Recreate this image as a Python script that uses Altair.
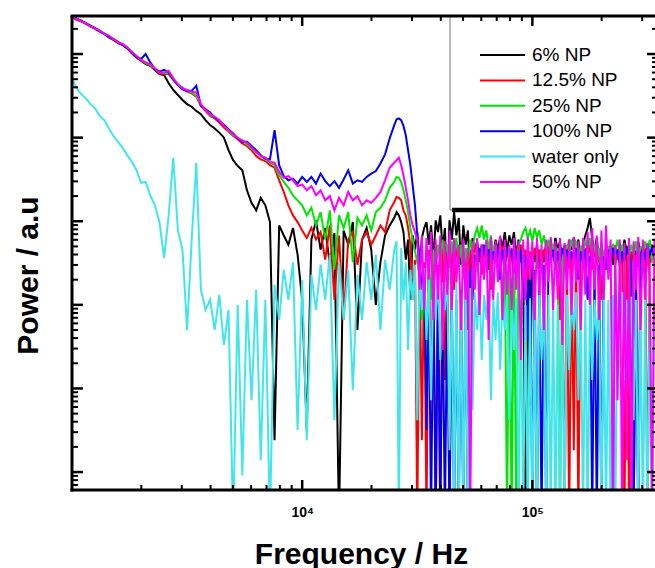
import altair as alt
import pandas as pd

# ---------------- data ----------------
# log10 of frequency (Hz) sample grid
LGF_LOW = [3.00, 3.02, 3.04, 3.06, 3.08, 3.10, 3.12, 3.14, 3.16, 3.18,
           3.20, 3.22, 3.24, 3.26, 3.28, 3.30, 3.32, 3.34, 3.36, 3.38,
           3.40, 3.42, 3.44, 3.46, 3.48, 3.50, 3.52, 3.54, 3.56, 3.58,
           3.60, 3.62, 3.64, 3.66, 3.68, 3.70, 3.72, 3.74, 3.76, 3.78,
           3.80, 3.82, 3.84, 3.86, 3.88, 3.90, 3.92, 3.94, 3.96, 3.98,
           4.00, 4.02, 4.04, 4.06, 4.08, 4.10, 4.12, 4.14, 4.16, 4.18,
           4.20, 4.22, 4.24, 4.26, 4.28, 4.30, 4.32, 4.34, 4.36, 4.38]
LGF_HIGH = [4.40, 4.41, 4.42, 4.43, 4.44, 4.45, 4.46, 4.47, 4.48, 4.49,
            4.50, 4.51, 4.52, 4.53, 4.54, 4.55, 4.56, 4.57, 4.58, 4.59,
            4.60, 4.61, 4.62, 4.63, 4.64, 4.65, 4.66, 4.67, 4.68, 4.69,
            4.70, 4.71, 4.72, 4.73, 4.74, 4.75, 4.76, 4.77, 4.78, 4.79,
            4.80, 4.81, 4.82, 4.83, 4.84, 4.85, 4.86, 4.87, 4.88, 4.89,
            4.90, 4.91, 4.92, 4.93, 4.94, 4.95, 4.96, 4.97, 4.98, 4.99,
            5.00, 5.01, 5.02, 5.03, 5.04, 5.05, 5.06, 5.07, 5.08, 5.09,
            5.10, 5.11, 5.12, 5.13, 5.14, 5.15, 5.16, 5.17, 5.18, 5.19,
            5.20, 5.21, 5.22, 5.23, 5.24, 5.25, 5.26, 5.27, 5.28, 5.29,
            5.30, 5.31, 5.32, 5.33, 5.34, 5.35, 5.36, 5.37, 5.38, 5.39,
            5.40, 5.41, 5.42, 5.43, 5.44, 5.45, 5.46, 5.47, 5.48, 5.49,
            5.50, 5.51, 5.52, 5.53, 5.54]
LGF = LGF_LOW + LGF_HIGH

SERIES = ["6% NP", "12.5% NP", "25% NP", "100% NP", "water only", "50% NP"]
COLORS = ["#000000", "#ff0000", "#00e600", "#0000f0", "#40e6ea", "#ff00ff"]

# log10 of power (a.u.)
LGP_6 = [
    0.45, 0.42, 0.39, 0.37, 0.33, 0.31, 0.28, 0.24, 0.20, 0.17,
    0.13, 0.11, 0.07, 0.01, -0.04, -0.08, -0.12, -0.14, -0.19, -0.24,
    -0.25, -0.35, -0.43, -0.49, -0.55, -0.60, -0.63, -0.68, -0.72, -0.79,
    -0.85, -0.89, -0.94, -1.00, -1.15, -1.27, -1.34, -1.39, -1.63, -1.78,
    -1.87, -1.72, -1.81, -2.01, -4.62, -2.05, -2.17, -2.28, -2.08, -2.40,
    -2.94, -4.50, -2.22, -1.99, -2.34, -2.08, -2.52, -2.14, -5.60, -2.11,
    -2.28, -2.01, -3.30, -2.22, -2.08, -2.34, -3.00, -2.49, -2.17, -2.05,
    -1.96, -1.89, -1.93, -2.01, -2.13, -2.46, -2.22, -2.94, -2.17, -2.34,
    -2.13, -2.58, -2.20, -2.08, -2.01, -2.28, -2.05, -2.46, -1.99, -2.13,
    -1.93, -2.34, -2.08, -2.82, -1.99, -2.22, -1.89, -2.17, -1.96, -2.52,
    -2.05, -2.28, -2.11, -2.70, -2.20, -2.34, -2.24, -2.49, -2.28, -2.40,
    -2.32, -2.58, -2.28, -2.42, -2.22, -2.34, -2.19, -2.32, -2.13, -2.36,
    -2.17, -2.28, -2.13, -2.42, -2.22, -2.49, -2.32, -5.60, -2.36, -4.20,
    -2.34, -2.49, -2.28, -2.56, -2.34, -2.49, -2.24, -2.40, -2.22, -2.42,
    -2.20, -2.34, -2.24, -2.49, -2.28, -2.40, -2.22, -2.34, -2.19, -2.32,
    -2.22, -2.42, -2.27, -2.17, -2.08, -1.96, -2.22, -2.36, -2.20, -2.49,
    -2.28, -2.58, -2.34, -2.42, -2.30, -2.52, -2.32, -2.46, -2.27, -2.41,
    -2.22, -2.36, -2.28, -2.49, -2.32, -2.42, -2.24, -2.40, -2.30, -2.46,
    -2.34, -2.49, -2.28, -2.40, -2.34]

LGP_12 = [
    0.44, 0.41, 0.39, 0.36, 0.33, 0.30, 0.27, 0.24, 0.21, 0.17,
    0.14, 0.11, 0.07, 0.02, -0.03, -0.08, -0.11, -0.14, -0.18, -0.23,
    -0.24, -0.24, -0.31, -0.37, -0.42, -0.45, -0.47, -0.51, -0.62, -0.68,
    -0.74, -0.77, -0.82, -0.88, -0.93, -0.98, -1.02, -1.07, -1.10, -1.15,
    -1.22, -1.26, -1.28, -1.33, -1.36, -1.51, -1.65, -1.81, -1.93, -2.01,
    -2.11, -2.20, -2.08, -2.22, -2.13, -2.46, -2.05, -2.94, -2.17, -3.18,
    -2.22, -2.13, -2.52, -2.22, -2.13, -2.28, -2.17, -2.05, -2.13, -1.87,
    -1.77, -1.71, -1.72, -1.75, -1.87, -1.93, -2.08, -2.28, -2.94, -2.46,
    -5.60, -2.40, -4.62, -2.49, -5.60, -2.34, -4.14, -2.42, -5.60, -2.52,
    -5.60, -2.32, -3.90, -2.40, -5.60, -2.34, -2.82, -2.28, -2.49, -2.32,
    -2.58, -2.36, -3.30, -2.34, -2.49, -2.28, -2.42, -2.34, -2.64, -2.32,
    -2.46, -2.28, -2.82, -2.36, -2.49, -2.32, -2.42, -2.30, -2.58, -2.34,
    -2.49, -2.32, -2.94, -2.34, -2.42, -2.28, -2.52, -2.34, -2.70, -2.36,
    -2.49, -2.32, -2.42, -2.34, -2.56, -2.34, -2.46, -2.30, -2.41, -2.32,
    -2.52, -2.34, -3.18, -2.36, -5.60, -2.40, -5.60, -2.42, -4.74, -2.36,
    -5.60, -2.34, -2.49, -2.32, -2.42, -2.28, -2.58, -2.34, -2.49, -2.32,
    -2.94, -2.36, -2.49, -2.32, -2.42, -2.30, -2.52, -2.34, -2.42, -2.32,
    -5.60, -2.34, -5.60, -2.36, -5.60, -2.40, -5.60, -2.34, -2.49, -2.32,
    -5.60, -2.36, -2.49, -2.34, -2.42]

LGP_25 = [
    0.44, 0.42, 0.40, 0.36, 0.34, 0.30, 0.28, 0.25, 0.21, 0.18,
    0.15, 0.11, 0.08, 0.03, -0.03, -0.06, -0.11, -0.13, -0.18, -0.21,
    -0.23, -0.23, -0.30, -0.37, -0.40, -0.44, -0.46, -0.50, -0.61, -0.66,
    -0.73, -0.76, -0.80, -0.85, -0.92, -0.97, -1.01, -1.03, -1.08, -1.13,
    -1.18, -1.21, -1.26, -1.30, -1.33, -1.45, -1.53, -1.60, -1.69, -1.75,
    -1.81, -1.93, -1.84, -2.05, -1.89, -2.22, -1.87, -2.58, -1.93, -2.08,
    -1.89, -2.49, -1.96, -2.05, -1.93, -2.11, -1.89, -1.84, -1.75, -1.60,
    -1.53, -1.47, -1.48, -1.53, -1.63, -1.75, -1.89, -2.08, -2.22, -2.36,
    -2.49, -2.64, -3.18, -2.82, -3.90, -2.42, -2.94, -2.34, -2.61, -2.28,
    -2.49, -2.22, -2.40, -2.28, -2.56, -2.24, -2.42, -2.20, -2.49, -2.28,
    -2.70, -2.32, -2.49, -2.22, -2.40, -2.17, -2.08, -2.20, -2.05, -2.22,
    -2.11, -2.34, -2.17, -2.40, -2.28, -2.49, -2.32, -2.94, -2.34, -5.60,
    -2.40, -5.60, -2.34, -5.60, -2.28, -2.22, -2.13, -2.08, -2.20, -2.11,
    -2.24, -2.08, -2.19, -2.11, -2.28, -2.17, -2.34, -2.22, -2.42, -2.28,
    -2.52, -2.32, -5.60, -2.34, -2.49, -2.28, -2.40, -2.22, -2.36, -2.24,
    -2.49, -2.30, -2.42, -2.22, -2.34, -2.20, -2.41, -2.27, -2.49, -2.32,
    -2.58, -2.34, -2.49, -2.30, -2.42, -2.27, -2.36, -2.22, -2.41, -2.28,
    -2.49, -2.32, -2.42, -2.28, -2.40, -2.24, -2.46, -2.30, -2.42, -2.24,
    -2.36, -2.22, -2.49, -2.32, -2.40]

LGP_100 = [
    0.45, 0.42, 0.40, 0.37, 0.34, 0.31, 0.27, 0.24, 0.21, 0.18,
    0.14, 0.11, 0.07, 0.02, -0.03, -0.06, 0.00, -0.10, -0.18, -0.21,
    -0.19, -0.22, -0.30, -0.37, -0.42, -0.44, -0.44, -0.38, -0.62, -0.66,
    -0.70, -0.76, -0.80, -0.85, -0.90, -0.95, -1.01, -1.05, -1.05, -1.10,
    -1.15, -1.21, -1.25, -1.26, -0.91, -1.33, -1.46, -1.51, -1.49, -1.55,
    -1.47, -1.53, -1.47, -1.55, -1.43, -1.52, -1.58, -1.52, -1.60, -1.50,
    -1.39, -1.55, -1.51, -1.53, -1.47, -1.43, -1.40, -1.31, -1.20, -1.01,
    -0.85, -0.78, -0.77, -0.79, -0.86, -0.97, -1.15, -1.33, -1.57, -1.81,
    -2.17, -2.46, -2.82, -2.58, -4.50, -2.64, -5.60, -2.70, -5.60, -2.76,
    -5.60, -2.82, -5.60, -2.88, -5.60, -2.76, -5.60, -2.94, -5.60, -2.82,
    -5.60, -2.70, -5.60, -2.58, -2.94, -2.40, -2.52, -2.32, -2.46, -2.28,
    -2.42, -2.34, -2.58, -2.36, -2.49, -2.32, -2.70, -2.34, -2.49, -2.32,
    -2.42, -2.34, -2.61, -2.36, -2.49, -2.34, -2.94, -2.42, -3.42, -2.49,
    -5.60, -2.58, -5.60, -2.64, -5.60, -2.52, -5.60, -2.40, -2.49, -2.34,
    -2.58, -2.36, -2.49, -2.32, -2.42, -2.34, -2.56, -2.36, -2.49, -2.32,
    -2.70, -2.36, -2.49, -2.34, -2.94, -2.42, -5.60, -2.49, -5.60, -2.52,
    -5.60, -2.42, -2.58, -2.34, -2.49, -2.32, -2.42, -2.34, -2.54, -2.36,
    -2.49, -2.32, -2.42, -2.49, -5.60, -2.52, -5.60, -2.40, -2.32, -2.46,
    -2.28, -2.40, -2.32, -2.42, -2.34]

LGP_WATER = [
    -0.29, -0.41, -0.48, -0.53, -0.60, -0.65, -0.74, -0.79, -0.89, -0.98,
    -1.05, -1.12, -1.21, -1.29, -1.39, -1.54, -1.53, -1.69, -1.81, -2.01,
    -2.44, -1.93, -1.24, -2.11, -2.34, -3.30, -2.22, -1.30, -2.82, -3.06,
    -2.94, -3.30, -2.88, -3.48, -3.06, -5.60, -3.00, -5.04, -2.94, -4.14,
    -2.82, -4.86, -2.94, -5.60, -2.76, -3.18, -2.58, -2.94, -2.49, -4.50,
    -2.70, -4.62, -2.64, -3.06, -2.52, -2.94, -2.40, -4.38, -2.49, -3.18,
    -2.58, -4.02, -2.64, -3.18, -2.49, -2.94, -2.40, -3.30, -2.46, -2.82,
    -2.34, -2.24, -5.60, -2.32, -2.94, -2.49, -3.54, -2.58, -2.94, -2.52,
    -4.38, -2.61, -3.06, -2.56, -3.42, -2.64, -4.14, -2.70, -3.18, -2.61,
    -3.66, -2.73, -3.06, -2.64, -4.74, -2.76, -5.60, -2.67, -5.60, -2.82,
    -5.60, -2.70, -5.60, -2.80, -4.26, -2.85, -3.30, -2.76, -3.66, -2.88,
    -3.18, -2.80, -4.14, -2.92, -3.42, -2.85, -3.78, -2.94, -3.30, -2.88,
    -4.38, -2.94, -3.54, -2.92, -5.60, -2.94, -5.60, -3.00, -5.60, -2.92,
    -5.60, -3.00, -5.60, -2.88, -3.66, -2.94, -5.60, -2.88, -5.60, -2.94,
    -5.60, -3.00, -5.60, -2.92, -5.60, -2.88, -3.78, -2.94, -3.30, -2.85,
    -4.14, -2.92, -5.60, -2.94, -5.60, -2.88, -3.90, -2.94, -3.42, -2.92,
    -5.60, -2.85, -5.60, -2.94, -5.60, -2.88, -5.60, -2.94, -3.18, -2.85,
    -3.90, -2.94, -3.42, -2.90, -4.38, -2.94, -5.60, -2.88, -5.60, -2.94,
    -5.60, -2.90, -5.60, -2.94, -3.30]

LGP_50 = [
    0.45, 0.42, 0.39, 0.37, 0.33, 0.31, 0.28, 0.24, 0.22, 0.18,
    0.14, 0.12, 0.08, 0.02, -0.02, -0.07, -0.10, -0.12, -0.17, -0.22,
    -0.22, -0.20, -0.29, -0.36, -0.41, -0.43, -0.45, -0.46, -0.60, -0.67,
    -0.72, -0.75, -0.79, -0.86, -0.91, -0.96, -1.00, -1.04, -1.06, -1.12,
    -1.17, -1.22, -1.24, -1.29, -1.30, -1.41, -1.48, -1.46, -1.51, -1.58,
    -1.56, -1.63, -1.58, -1.69, -1.63, -1.75, -1.70, -1.87, -1.72, -1.81,
    -1.65, -1.75, -1.70, -1.81, -1.75, -1.78, -1.72, -1.65, -1.51, -1.36,
    -1.30, -1.27, -1.24, -1.33, -1.45, -1.60, -1.75, -1.93, -2.05, -2.13,
    -2.22, -2.82, -2.17, -3.06, -2.20, -2.70, -2.13, -3.18, -2.22, -2.94,
    -2.17, -3.54, -2.24, -2.88, -2.11, -3.06, -2.20, -2.73, -2.28, -3.30,
    -2.22, -2.94, -2.32, -5.60, -2.24, -2.82, -2.20, -3.12, -2.28, -2.70,
    -2.22, -3.42, -2.19, -2.94, -2.24, -2.73, -2.17, -3.18, -2.22, -2.88,
    -2.28, -3.06, -2.20, -2.82, -2.24, -3.66, -2.22, -2.94, -2.19, -2.70,
    -2.24, -3.18, -2.20, -2.88, -2.28, -3.30, -2.22, -2.73, -2.19, -3.06,
    -2.24, -2.94, -2.20, -3.48, -2.26, -2.82, -2.22, -3.12, -2.19, -2.73,
    -2.24, -3.30, -2.20, -2.88, -2.13, -3.00, -2.08, -2.82, -2.17, -3.18,
    -2.11, -2.94, -2.05, -2.70, -2.22, -5.60, -2.28, -4.14, -2.22, -5.60,
    -2.26, -4.86, -2.20, -5.60, -2.24, -2.82, -2.19, -3.30, -2.22, -2.94,
    -2.26, -2.73, -5.60, -2.22, -2.94]

VALUES = [LGP_6, LGP_12, LGP_25, LGP_100, LGP_WATER, LGP_50]

X_LABELED = [10000, 100000]
X_MINOR = [2000, 3000, 4000, 5000, 6000, 7000, 8000, 9000,
           20000, 30000, 40000, 50000, 60000, 70000, 80000, 90000,
           200000, 300000]
Y_MAJOR = [1e-5, 1e-4, 1e-3, 1e-2, 1e-1, 1e0]
Y_MINOR = [m * 10.0 ** e for e in range(-6, 1) for m in range(2, 10)
           if 6.1e-6 < m * 10.0 ** e < 2.85]

for name, vals in zip(SERIES, VALUES):
    if len(vals) != len(LGF):
        raise SystemExit(f"{name}: {len(vals)} values vs {len(LGF)} freqs")

# ---------------- layout ----------------
W, H = 583, 474
FONT = "Liberation Sans"
xs = alt.Scale(type="log", domain=[1000, 341000], nice=False)
ys = alt.Scale(type="log", domain=[6.1e-6, 2.85], nice=False)

XAXIS = alt.Axis(values=X_LABELED,
                 labelExpr="datum.value < 50000 ? '10⁴' : '10⁵'",
                 ticks=False, tickSize=0, domain=False, grid=False,
                 labelFont=FONT, labelFontSize=14, labelFontWeight="bold",
                 labelColor="black", labelPadding=15, labelFlush=False,
                 labelOverlap=False,
                 title="Frequency / Hz", titleFont=FONT, titleFontSize=30,
                 titleFontWeight="bold", titleColor="black",
                 titleX=289, titleY=73, titleAlign="center",
                 titleBaseline="alphabetic")
YAXIS = alt.Axis(labels=False, ticks=False, tickSize=0, domain=False,
                 grid=False, title="Power / a.u", titleFont=FONT,
                 titleFontSize=30, titleFontWeight="bold", titleColor="black",
                 titleX=-35, titleY=259, titleAngle=270, titleAlign="center",
                 titleBaseline="alphabetic")


def xf(field):
    return alt.X(field, scale=xs, axis=XAXIS)


layers = []
for i, (name, vals) in enumerate(zip(SERIES, VALUES)):
    df = pd.DataFrame({"lgf": LGF, "lgp": vals, "series": name})
    base = alt.Chart(df).transform_calculate(
        f="pow(10, datum.lgf)", p="pow(10, datum.lgp)")
    ye = alt.Y("p:Q", scale=ys, axis=YAXIS if i == 0 else None)
    layers.append(base.mark_line(color=COLORS[i], strokeWidth=2, clip=True)
                  .encode(x=xf("f:Q"), y=ye))

one = alt.Data(values=[{}])

# legend (box, line samples, labels)
leg_df = pd.DataFrame({"series": SERIES})
yleg = alt.Y("series:N", scale=alt.Scale(type="point", domain=SERIES,
                                         range=[39, 166], padding=0), axis=None)
cleg = alt.Color("series:N", scale=alt.Scale(domain=SERIES, range=COLORS),
                 legend=None)
box = alt.Chart(one).mark_rect(fill="white", stroke="#777777", strokeWidth=1).encode(
    x=alt.value(378), x2=alt.value(W + 20), y=alt.value(0), y2=alt.value(194))
box_bottom = alt.Chart(one).mark_rule(color="black", strokeWidth=4.5).encode(
    x=alt.value(380), x2=alt.value(W + 20), y=alt.value(194))
leg_line = alt.Chart(leg_df).mark_rule(strokeWidth=2).encode(
    x=alt.value(408), x2=alt.value(453), y=yleg, color=cleg)
leg_text = alt.Chart(leg_df).mark_text(align="left", baseline="middle", font=FONT,
                                       fontSize=19, color="black").encode(
    x=alt.value(460), y=yleg, text="series:N")

# inward ticks
ticks = []
for vals, ln, sw in [(X_LABELED, 10, 2.5), (X_MINOR, 5, 2)]:
    d = pd.DataFrame({"f": vals})
    ticks.append(alt.Chart(d).mark_rule(color="black", strokeWidth=sw).encode(
        x=xf("f:Q"), y=alt.value(H), y2=alt.value(H - ln)))
    ticks.append(alt.Chart(d).mark_rule(color="black", strokeWidth=sw).encode(
        x=xf("f:Q"), y=alt.value(0), y2=alt.value(ln)))
for vals, ln, sw in [(Y_MAJOR, 11, 2.5), (Y_MINOR, 6, 2)]:
    d = pd.DataFrame({"p": vals})
    ye = alt.Y("p:Q", scale=ys, axis=None)
    ticks.append(alt.Chart(d).mark_rule(color="black", strokeWidth=sw).encode(
        y=ye, x=alt.value(0), x2=alt.value(ln)))
    ticks.append(alt.Chart(d).mark_rule(color="black", strokeWidth=sw).encode(
        y=ye, x=alt.value(W + 3), x2=alt.value(W + 3 - ln)))

# frame
frame = [
    alt.Chart(one).mark_rule(color="black", strokeWidth=3).encode(
        x=alt.value(0), y=alt.value(0), y2=alt.value(H + 1.5)),
    alt.Chart(one).mark_rule(color="black", strokeWidth=3).encode(
        x=alt.value(-1.5), x2=alt.value(W + 3), y=alt.value(H)),
    alt.Chart(one).mark_rule(color="black", strokeWidth=3).encode(
        x=alt.value(-1.5), x2=alt.value(W + 3), y=alt.value(0)),
]

chart = (alt.layer(*layers, box, box_bottom, leg_line, leg_text, *ticks, *frame)
         .resolve_scale(y="independent")
         .properties(width=W, height=H,
                     autosize=alt.AutoSizeParams(type="none"),
                     padding={"left": 72, "top": 16, "right": 0, "bottom": 78},
                     background="white")
         .configure_view(stroke="transparent"))

chart.save("out.html", embed_options={"renderer": "svg", "actions": False})
